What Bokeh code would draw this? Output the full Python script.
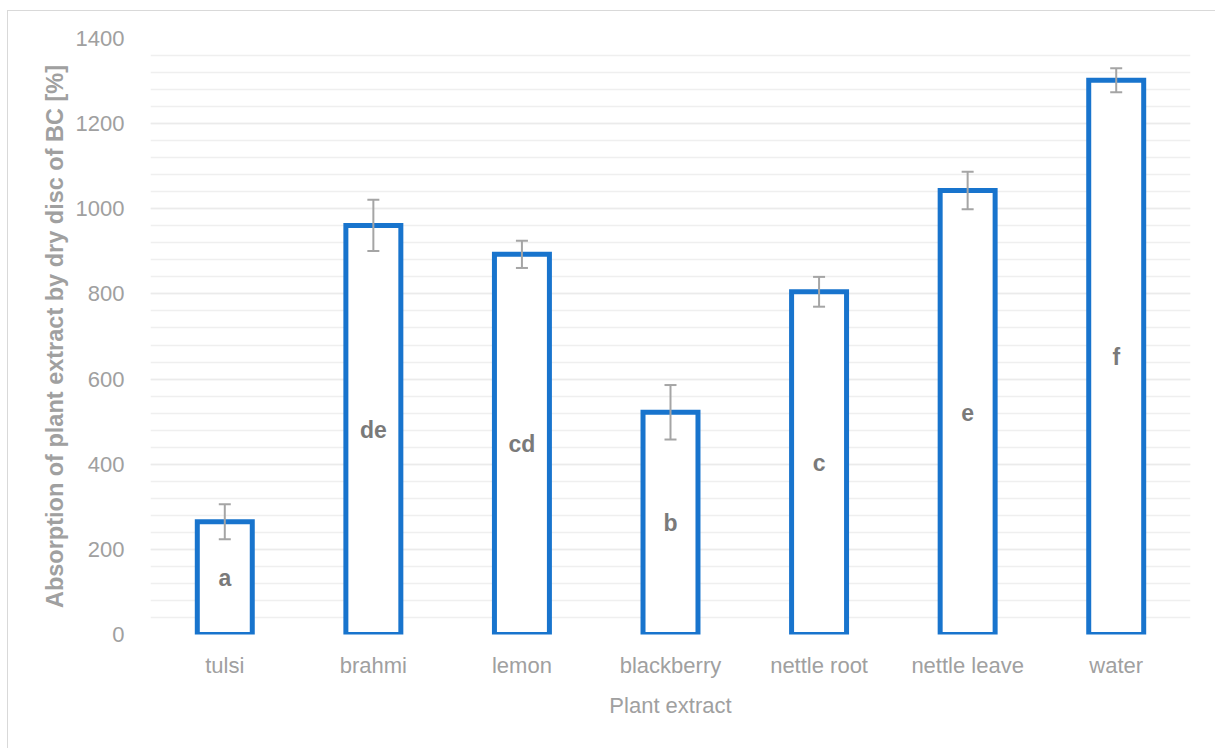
from bokeh.plotting import figure
from bokeh.models import (ColumnDataSource, FixedTicker, Whisker, TeeHead,
                          FactorRange)
from bokeh.core.properties import value
from bokeh.embed import file_html
from bokeh.resources import INLINE

# ---- data ----
categories = ["tulsi", "brahmi", "lemon", "blackberry", "nettle root", "nettle leave", "water"]
absorption = [265, 961, 893, 522, 805, 1043, 1302]
error = [41, 60, 32, 64, 35, 44, 28]
letters = ["a", "de", "cd", "b", "c", "e", "f"]
y_ticks = [0, 200, 400, 600, 800, 1000, 1200, 1400]
y_title = "Absorption of plant extract by dry disc of BC [%]"
x_title = "Plant extract"

src = ColumnDataSource(dict(
    x=categories,
    top=absorption,
    upper=[v + e for v, e in zip(absorption, error)],
    lower=[v - e for v, e in zip(absorption, error)],
    mid=[v / 2 for v in absorption],
    lab=letters,
))

FONT = "Liberation Sans"
GRAY = "#A0A0A0"

p = figure(width=1208, height=738, x_range=FactorRange(*categories, range_padding=0),
           y_range=(0, 1400), output_backend="svg", toolbar_location=None,
           min_border_left=142, min_border_right=26, min_border_top=27,
           min_border_bottom=115)
p.margin = (10, 0, 0, 7)
p.styles = {"border-top": "1px solid #D9D9D9", "border-left": "1px solid #D9D9D9"}
p.outline_line_color = None
p.background_fill_color = "white"
p.border_fill_color = "white"

# grid
p.xgrid.grid_line_color = None
p.yaxis.ticker = FixedTicker(ticks=y_ticks, minor_ticks=list(range(0, 1401, 40)))
p.ygrid.grid_line_color = "#EBEBEB"
p.ygrid.grid_line_width = 1.5
p.ygrid.minor_grid_line_color = "#EFEFEF"
p.ygrid.minor_grid_line_width = 1.5

# axes
for ax in (p.xaxis, p.yaxis):
    ax.axis_line_color = None
    ax.major_tick_line_color = None
    ax.minor_tick_line_color = None
    ax.major_label_text_font = FONT
    ax.major_label_text_font_size = "22px"
    ax.major_label_text_color = GRAY
    ax.axis_label_text_font = FONT
    ax.axis_label_text_color = GRAY
    ax.axis_label_text_font_style = "normal"
    ax.axis_label_text_font_size = "22px"
    ax.major_tick_out = 0
    ax.major_tick_in = 0

p.yaxis.major_label_standoff = 22
p.yaxis.axis_label = y_title
p.yaxis.axis_label_text_font_style = "bold"
p.yaxis.axis_label_text_font_size = "23.5px"
p.yaxis.axis_label_standoff = 5

p.xaxis.major_label_standoff = 18
p.xaxis.axis_label = x_title
p.xaxis.axis_label_standoff = 12

# bars
p.vbar(x="x", top="top", width=0.37, source=src, fill_color="white",
       line_color="#1874CD", line_width=5, line_join="miter")

# error bars
w = Whisker(base="x", upper="upper", lower="lower", source=src,
            line_color="#A5A5A5", line_width=2, level="overlay",
            upper_head=TeeHead(size=12, line_color="#A5A5A5", line_width=2),
            lower_head=TeeHead(size=12, line_color="#A5A5A5", line_width=2))
p.add_layout(w)

# letters
p.text(x="x", y="mid", text="lab", source=src, text_align="center",
       text_baseline="middle", text_font=value(FONT), text_font_style="bold",
       text_font_size="23px", text_color="#7A7A7A")

open("out.html", "w").write(file_html(p, INLINE))
